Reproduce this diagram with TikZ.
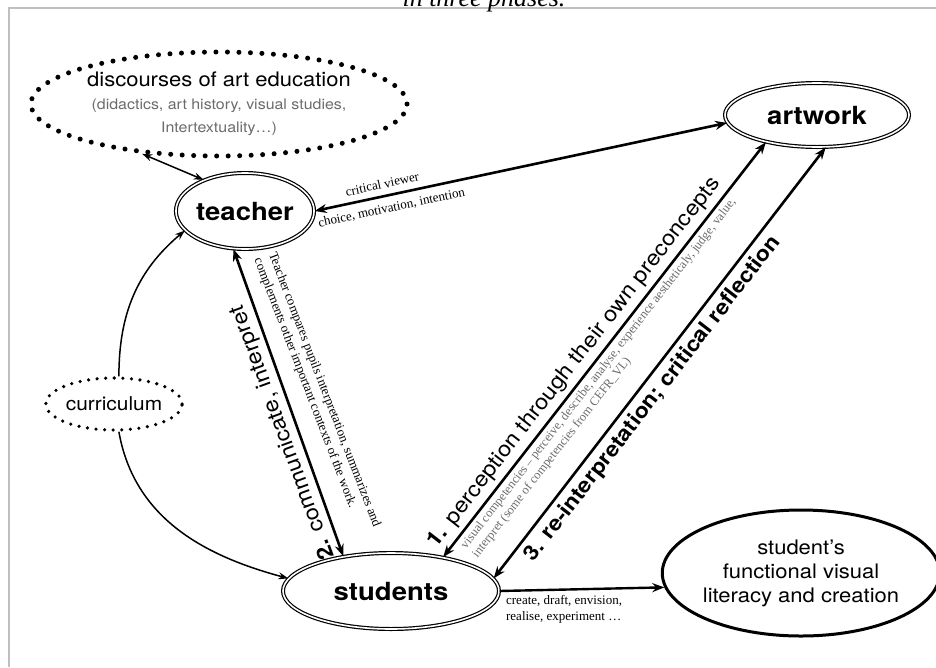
\documentclass[tikz,border=0pt]{standalone}
\usepackage{fontspec}
\setsansfont{TeX Gyre Heros}[FakeStretch=1.1]
\newfontfamily\notefont{Liberation Serif}
\usepackage{xcolor}
\definecolor{framegray}{gray}{0.75}
\definecolor{notegray}{gray}{0.42}
\usetikzlibrary{arrows.meta,positioning,shapes.geometric}

\begin{document}
\begin{tikzpicture}[
    x=1pt,y=-1pt,
    >={Stealth[length=12pt,width=9pt]},
    hub/.style={ellipse,draw,line width=1.2pt,double,double distance=1.6pt,
                inner sep=0pt,font=\sffamily\bfseries\fontsize{25}{30}\selectfont},
    dotty/.style={ellipse,draw,line width=5pt,line cap=round,
                  dash pattern=on 0pt off 11.5pt,inner sep=0pt,align=center},
    link/.style={line width=2.6pt,<->},
    single link/.style={line width=2.4pt,->},
    curve/.style={line width=1.5pt,->,>={Stealth[length=10pt,width=7pt]}},
    note/.style={font=\notefont\fontsize{13}{15.5}\selectfont},
    phase/.style={font=\sffamily\fontsize{21.5}{25}\selectfont}
  ]
  \useasboundingbox (0,0) rectangle (936,667);
  \draw[framegray,line width=1.5pt] (9,667) -- (9,8) -- (936,8);
  \node[font=\notefont\itshape\fontsize{26}{30}\selectfont,anchor=base] (caption) at (484,6) {in three phases.};

  % nodes
  \node[dotty,minimum width=376pt,minimum height=104pt,text=notegray,
        font=\sffamily\fontsize{14.5}{23}\selectfont] (disc) at (219,104) {
    \textcolor{black}{\fontsize{20}{24}\selectfont discourses of art education}\\
    (didactics, art history, visual studies,\\ Intertextuality…)
  };
  \node[dotty,line width=3.6pt,dash pattern=on 0pt off 8.6pt,
        minimum width=132pt,minimum height=52pt,
        font=\sffamily\fontsize{19}{23}\selectfont] (curr) at (114,404) {curriculum};
  \node[hub,minimum width=132pt,minimum height=76pt] (teacher) at (245,211) {teacher};
  \node[hub,minimum width=184pt,minimum height=64pt] (artwork) at (817,115) {artwork};
  \node[hub,minimum width=216pt,minimum height=76pt] (students) at (391,591) {students};
  \node[ellipse,draw,line width=3pt,inner sep=0pt,align=center,
        minimum width=214pt,minimum height=126pt,
        font=\sffamily\fontsize{20}{24}\selectfont] (lit) at (801,573)
        {student’s\\functional visual\\literacy and creation};

  % connectors
  \draw[link,line width=1.5pt,>={Stealth[length=10pt,width=7pt]}] (disc.-147) -- (teacher.143);
  \draw[link] (teacher.east) -- (artwork.185)
    node[pos=0.17,sloped,above=3pt,note] {critical viewer}
    node[pos=0.18,sloped,below=3pt,note] {choice, motivation, intention};
  \draw[curve] (curr.80) to[out=90,in=220] (teacher.198);
  \draw[curve] (curr.-80) to[out=-80,in=165] (students.173);
  \draw[link] (students.144) -- (teacher.-107)
    node[pos=0.42,rotate=110,anchor=south,phase] {\textbf{2.} communicate, interpret}
    node[pos=0.95,rotate=-69,anchor=south west,note,align=left,
         inner xsep=0pt,inner ysep=12pt]
    {Teacher compares pupils interpretation, summarizes and\\
     complements other important contexts of the work.};
  \draw[link] (students.33) -- (artwork.208)
    node[pos=0.445,sloped,above=1pt,phase] {\textbf{1.} perception through their own preconcepts}
    node[pos=0.03,sloped,anchor=north west,note,align=left,text=notegray,
         font=\notefont\fontsize{12.5}{14.5}\selectfont]
    {visual competencies – perceive, describe, analyse, experience aestheticaly, judge, value,\\
     interpret (some of competencies from CEFR\_VL)};
  \draw[link] (students.7) -- (artwork.-75)
    node[pos=0.44,sloped,below=2pt,font=\sffamily\bfseries\fontsize{21}{25}\selectfont]
    {3. re-interpretation; critical reflection};
  \draw[single link] (students.east) -- (lit.186)
    node[pos=0,anchor=north west,note,align=left,xshift=2pt]
    {create, draft, envision,\\realise, experiment …};
\end{tikzpicture}
\end{document}
